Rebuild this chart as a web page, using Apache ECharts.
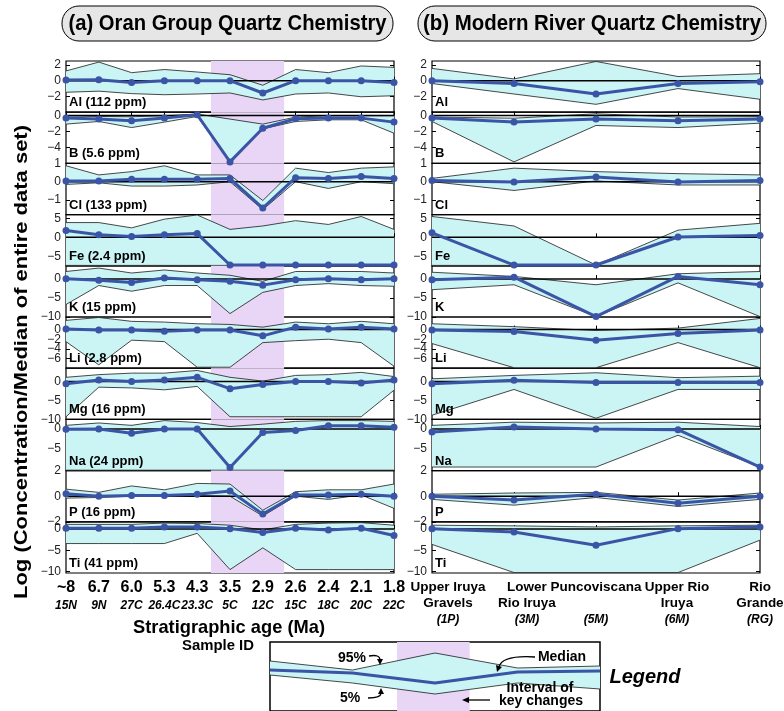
<!DOCTYPE html>
<html><head><meta charset="utf-8">
<script src="https://cdn.jsdelivr.net/npm/echarts@6/dist/echarts.min.js"></script>
<style>html,body{margin:0;padding:0;background:#fff}#c{width:784px;height:711px}</style>
</head><body><div id="c"></div>
<script>
// ---------- categories / labels ----------
const ageLabels = ['~8','6.7','6.0','5.3','4.3','3.5','2.9','2.6','2.4','2.1','1.8'];
const sampleIds = ['15N','9N','27C','26.4C','23.3C','5C','12C','15C','18C','20C','22C'];
const riverNames = ['Upper Iruya\nGravels','Lower\nRio Iruya','Puncoviscana\n ','Upper Rio\nIruya','Rio\nGrande'];
const riverIds = ['(1P)','(3M)','(5M)','(6M)','(RG)'];
const elements = ['Al','B','Cl','Fe','K','Li','Mg','Na','P','Ti'];
const medianPpm = ['112','5.6','133','2.4','15','2.8','16','24','16','41'];
const yMin = [-4,-6,-1.8,-7.5,-10,-8,-10,-10.5,-2,-10.3];
const yMax = [2.5,0.4,1,6,3.5,2.6,3.5,2.4,2,1.7];
const yTicks = [[2,0,-2],[0,-2,-4],[1,0,-1],[5,0,-5],[0,-5,-10],[0,-2,-4,-6],[0,-5,-10],[0,-5],[2,0,-2],[0,-5,-10]];
const keyInterval = [4.42, 6.65];

// ---------- (a) Oran Group: 95th percentile, median, 5th percentile ----------
const al95a = [1.24,2.36,1.02,1.42,1.1,0.76,-0.58,1.42,1.02,1.87,1.69];
const alMeda = [0.09,0.13,-0.22,0,0,0,-1.56,0,0,0,-0.22];
const al5a = [-1.47,-1.33,-1.64,-1.78,-1.69,-1.56,-2.44,-1.69,-1.56,-2.04,-1.91];
const b95a = [-0.04,-0.13,-0.17,-0.04,0.17,-0.46,-1.09,-0.21,-0.04,-0.04,-0.04];
const bMeda = [-0.34,-0.46,-0.67,-0.34,0.08,-5.81,-1.6,-0.42,-0.34,-0.34,-0.84];
const b5a = [-1.09,-0.76,-1.52,-0.84,-0.13,-5.81,-1.68,-0.76,-0.55,-0.55,-2.23];
const cl95a = [0.87,0.37,0.55,0.87,0.37,0.37,-1.03,0.74,0.5,0.74,0.81];
const clMeda = [0.04,0.04,0.13,0.13,0.13,0.17,-1.44,0.22,0.18,0.28,0.18];
const cl5a = [-0.15,-0.06,-0.24,-0.24,-0.18,0,-1.53,0,-0.37,0,-0.11];
const fe95a = [3.9,3.9,2.5,4.8,5.9,2.1,3.0,4.4,3.4,5.5,2.1];
const feMeda = [1.8,0.7,0.25,0.7,1.0,-7.3,-7.3,-7.3,-7.3,-7.3,-7.3];
const fe5a = [-7.4,-7.4,-7.4,-7.4,-7.4,-7.4,-7.4,-7.4,-7.4,-7.4,-7.4];
const k95a = [2.0,2.9,1.6,2.4,1.6,1.0,-0.6,2.0,2.0,2.0,1.6];
const kMeda = [0.1,-0.3,-0.9,0.3,-0.2,-0.6,-1.6,-0.2,0.1,-0.2,0.1];
const k5a = [-6.7,-1.7,-3.2,-1.7,-1.7,-9.1,-3.5,-1.7,-1.2,-1.7,-1.9];
const li95a = [1.9,2.5,1.7,1.55,1.2,1.06,0.5,1.55,1.2,1.7,1.2];
const liMeda = [0.1,-0.1,-0.1,-0.35,-0.1,-0.1,-1.3,0.5,0.1,0.5,0.1];
const li5a = [-2.5,-7.3,-2.2,-2.5,-7.8,-7.8,-2.7,-2.3,-2.0,-2.7,-7.6];
const mg95a = [1.1,1.8,2.2,2.2,2.9,1.1,0.1,1.6,1.8,2.4,1.3];
const mgMeda = [-0.6,0.4,0,0.4,1.1,-1.9,-0.8,0,0,-0.4,0.4];
const mg5a = [-9.3,-1.5,-1.7,-2.2,-1.3,-9.3,-9.3,-9.3,-9.3,-9.3,-2.3];
const na95a = [0.9,1.5,0.9,2.1,1.6,0.6,1.2,1.9,2.1,2.1,1.9];
const naMeda = [-0.1,0,-1.1,0,0,-9.7,-0.9,-0.4,0.8,0.8,0.4];
const na5a = [-10.4,-10.4,-10.4,-10.4,-10.4,-10.4,-10.4,-10.4,-10.4,-10.4,-10.4];
const p95a = [0.55,0.3,0.8,0.5,1.0,0.95,-1.1,0.35,0.5,0.5,0.95];
const pMeda = [0.2,0,0.05,0.05,0.15,0.4,-1.4,0.1,0.1,0.15,0];
const p5a = [-0.15,-0.1,0,0,0.05,0,-1.55,0,-0.25,0.1,-0.95];
const ti95a = [1.1,1.1,1.1,1.4,1.3,0.9,-0.2,1.1,1.4,1.5,0.9];
const tiMeda = [0.2,0.2,0.2,0.5,0.5,0.1,-0.8,0.2,-0.2,0.2,-1.5];
const ti5a = [-3.4,-3.4,-3.4,-3.4,-1.0,-9.5,-4.4,-9.5,-9.5,-9.5,-9.5];

// ---------- (b) Modern River ----------
const al95b = [1.56,0.22,2.44,0.53,0.89];
const alMedb = [0,-0.36,-1.69,-0.36,-0.13];
const al5b = [-0.36,-1.69,-3.0,-1.0,-2.36];
const b95b = [-0.2,-0.35,0.2,-0.2,-0.15];
const bMedb = [-0.34,-0.84,-0.46,-0.67,-0.46];
const b5b = [-0.76,-5.81,-1.26,-1.52,-0.97];
const cl95b = [0.18,0.74,0.55,0.44,0.37];
const clMedb = [0.07,-0.02,0.26,-0.02,0.07];
const cl5b = [0,-0.48,0.04,-0.18,-0.18];
const fe95b = [5.5,3.0,-7.3,1.9,3.7];
const feMedb = [1.2,-7.3,-7.3,0.1,0.5];
const fe5b = [-7.4,-7.4,-7.4,-7.4,-7.4];
const k95b = [1.8,0.7,-1.5,1.4,2.0];
const kMedb = [-0.2,0.5,-9.9,0.7,-1.5];
const k5b = [-2.8,-1.5,-9.9,-1.0,-9.9];
const li95b = [1.2,0.6,-0.2,0.3,2.3];
const liMedb = [-0.1,-0.4,-2.2,-0.8,-0.1];
const li5b = [-2.9,-7.9,-7.9,-2.7,-7.9];
const mg95b = [0.7,1.6,2.3,1.0,1.4];
const mgMedb = [-0.6,0.3,-0.3,-0.3,-0.3];
const mg5b = [-8.9,-2.1,-9.7,-2.1,-2.1];
const na95b = [0.9,1.7,1.5,1.7,0.6];
const naMedb = [-0.8,0.5,0,-0.2,-9.6];
const na5b = [-9.6,-9.6,-9.6,-1.6,-9.6];
const p95b = [0.15,0.25,0.3,-0.3,0.25];
const pMedb = [0,-0.3,0.15,-0.55,0];
const p5b = [-0.25,-0.7,-0.1,-0.8,-0.25];
const ti95b = [0.9,0.75,0.5,0.75,0.9];
const tiMedb = [0.1,-0.7,-3.8,0.1,0.5];
const ti5b = [-3.6,-10.2,-10.2,-10.2,-2.6];

// ---------- legend illustration ----------
const legend95 = [50,41,58,43,45];
const legendMed = [41,38,28,39,40];
const legend5 = [36,28,17,28,22];
const legendInterval = [1.54, 2.42];

const panelA = [[al95a,alMeda,al5a],[b95a,bMeda,b5a],[cl95a,clMeda,cl5a],[fe95a,feMeda,fe5a],[k95a,kMeda,k5a],
  [li95a,liMeda,li5a],[mg95a,mgMeda,mg5a],[na95a,naMeda,na5a],[p95a,pMeda,p5a],[ti95a,tiMeda,ti5a]];
const panelB = [[al95b,alMedb,al5b],[b95b,bMedb,b5b],[cl95b,clMedb,cl5b],[fe95b,feMedb,fe5b],[k95b,kMedb,k5b],
  [li95b,liMedb,li5b],[mg95b,mgMedb,mg5b],[na95b,naMedb,na5b],[p95b,pMedb,p5b],[ti95b,tiMedb,ti5b]];

// ---------- layout / style ----------
const TOP = 61, ROW_H = 51.2, LX = 66, RX = 432, W = 328;
const BLUE = '#3b55a6', CYAN = '#cbf4f4', PINK = '#e9d5f6';
const FONT = '"Liberation Sans", Arial, Helvetica, sans-serif';
const minus = v => (v < 0 ? '\u2212' + Math.abs(v) : String(v));
const riverLabelNudge = [16, 13, 0, -1, 0];
const CROWDED_ROW = 5; // Li: labels too close for the axis' own overlap rule

const measureCtx = document.createElement('canvas').getContext('2d');
function widthOf(text, font) { measureCtx.font = font; return measureCtx.measureText(text).width; }

const grids = [], xAxes = [], yAxes = [], yAxesRight = [], series = [], graphics = [];

function bandRender(up, lo) {
  return function (params, api) {
    const top = up.map((v, i) => api.coord([i, v]));
    const bot = lo.map((v, i) => api.coord([i, v]));
    return { type: 'group', children: [
      { type: 'polygon', shape: { points: top.concat(bot.slice().reverse()) }, style: { fill: CYAN, stroke: null } },
      { type: 'polyline', shape: { points: top }, style: { stroke: '#1a1a1a', lineWidth: 0.8, fill: null } },
      { type: 'polyline', shape: { points: bot }, style: { stroke: '#1a1a1a', lineWidth: 0.8, fill: null } }
    ]};
  };
}

const richX = {
  a: { fontFamily: FONT, fontWeight: 'bold', fontSize: 16, lineHeight: 18, color: '#000' },
  b: { fontFamily: FONT, fontWeight: 'bold', fontStyle: 'italic', fontSize: 12, lineHeight: 17, color: '#000' },
  c: { fontFamily: FONT, fontWeight: 'bold', fontSize: 13.5, lineHeight: 16, color: '#000' },
  d: { fontFamily: FONT, fontWeight: 'bold', fontStyle: 'italic', fontSize: 12, lineHeight: 17, color: '#000' }
};

function addRow(gi, left, row, nX, bands, pink, bottom, labelFmt) {
  const top = TOP + row * ROW_H;
  grids.push({ left: left, top: top, width: W, height: ROW_H, show: true, borderColor: '#000', borderWidth: 1.2, containLabel: false });
  xAxes.push({
    gridIndex: gi, type: 'value', min: 0, max: nX - 1, interval: 1,
    axisLine: { show: false }, splitLine: { show: false },
    axisTick: { show: true, inside: true, length: 4, lineStyle: { color: '#000', width: 1 } },
    axisLabel: (bottom && labelFmt) ? { show: true, margin: 6, showMinLabel: true, showMaxLabel: true, hideOverlap: false, formatter: labelFmt, rich: richX } : { show: false }
  });
  yAxes.push({
    gridIndex: gi, type: 'value', min: yMin[row], max: yMax[row],
    axisLine: { show: false }, splitLine: { show: false },
    axisTick: { show: true, inside: true, length: 4, customValues: yTicks[row], lineStyle: { color: '#000' } },
    axisLabel: { show: row !== CROWDED_ROW, customValues: yTicks[row], formatter: minus, hideOverlap: false,
      fontFamily: FONT, fontSize: 12, color: '#222', margin: 5 }
  });
  yAxesRight.push({
    gridIndex: gi, type: 'value', position: 'right', min: yMin[row], max: yMax[row],
    axisLine: { show: false }, splitLine: { show: false }, axisLabel: { show: false },
    axisTick: { show: true, inside: true, length: 4, customValues: yTicks[row], lineStyle: { color: '#000' } }
  });
  const [up, med, lo] = bands;
  series.push({ type: 'line', xAxisIndex: gi, yAxisIndex: gi, data: [[0, 0]], showSymbol: false, silent: true,
    lineStyle: { width: 0, opacity: 0 }, z: 1,
    markArea: pink ? { silent: true, itemStyle: { color: PINK }, data: [[{ xAxis: keyInterval[0] }, { xAxis: keyInterval[1] }]] } : undefined });
  series.push({ type: 'custom', xAxisIndex: gi, yAxisIndex: gi, data: [[0, 0]], renderItem: bandRender(up, lo), z: 2, silent: true, clip: true });
  series.push({ type: 'line', xAxisIndex: gi, yAxisIndex: gi, data: [[0, 0], [nX - 1, 0]], showSymbol: false, silent: true,
    lineStyle: { color: '#000', width: 1.5 }, z: 3 });
  series.push({ type: 'line', xAxisIndex: gi, yAxisIndex: gi, data: med.map((v, i) => [i, v]), symbol: 'circle', symbolSize: 7,
    lineStyle: { color: BLUE, width: 3 }, itemStyle: { color: BLUE }, z: 4, silent: true, clip: false });
}

const fmtA = v => { const i = Math.round(v); return '{a|' + ageLabels[i] + '}\n{b|' + sampleIds[i] + '}'; };
const riverText = i => riverNames[i].split('\n').map(s => '{c|' + s + '}').join('\n') + '\n{d|' + riverIds[i] + '}';

let gi = 0;
for (let r = 0; r < 10; r++) { addRow(gi++, LX, r, 11, panelA[r], true, r === 9, fmtA); }
for (let r = 0; r < 10; r++) { addRow(gi++, RX, r, 5, panelB[r], false, r === 9, null); }
const RIGHT_BOTTOM = gi - 1;

// row labels
for (let r = 0; r < 10; r++) {
  const yb = TOP + (r + 1) * ROW_H - 8;
  graphics.push({ type: 'text', left: LX + 3, top: yb - 8, z: 10, style: { text: elements[r] + ' (' + medianPpm[r] + ' ppm)', font: 'bold 13px ' + FONT, fill: '#000' } });
  graphics.push({ type: 'text', left: RX + 3, top: yb - 8, z: 10, style: { text: elements[r], font: 'bold 13px ' + FONT, fill: '#000' } });
}

// legend grid
const LG = gi;
grids.push({ left: 270, top: 642, width: 330, height: 69, show: true, borderColor: '#000', borderWidth: 1.5 });
xAxes.push({ gridIndex: LG, type: 'value', min: 0, max: 4, show: false });
yAxes.push({ gridIndex: LG, type: 'value', min: 0, max: 69, show: false });
series.push({ type: 'line', xAxisIndex: LG, yAxisIndex: LG, data: [[0, 0]], showSymbol: false, silent: true, lineStyle: { width: 0, opacity: 0 }, z: 1,
  markArea: { silent: true, itemStyle: { color: PINK }, data: [[{ xAxis: legendInterval[0] }, { xAxis: legendInterval[1] }]] } });
series.push({ type: 'custom', xAxisIndex: LG, yAxisIndex: LG, data: [[0, 0]], renderItem: bandRender(legend95, legend5), z: 2, silent: true });
series.push({ type: 'line', xAxisIndex: LG, yAxisIndex: LG, data: legendMed.map((v, i) => [i, v]), showSymbol: false, silent: true,
  lineStyle: { color: BLUE, width: 3 }, z: 4 });

// stretched/condensed text helper
function fitText(text, font, cx, cy, targetW, rotation) {
  const w = widthOf(text, font);
  graphics.push({ type: 'text', x: cx, y: cy, rotation: rotation || 0, scaleX: targetW / w, z: 11,
    style: { x: 0, y: 0, text: text, font: font, fill: '#000', align: 'center', verticalAlign: 'middle' } });
}

// headers
function header(x, w, text, tw) {
  graphics.push({ type: 'rect', shape: { x: x, y: 6, width: w, height: 35, r: 17 }, style: { fill: '#e6e6e6', stroke: '#000', lineWidth: 1 }, z: 10 });
  fitText(text, 'bold 22px ' + FONT, x + w / 2, 23.5, tw);
}
header(62, 331, '(a) Oran Group Quartz Chemistry', 318);
header(418, 348, '(b) Modern River Quartz Chemistry', 338);

// axis titles
fitText('Log (Concentration/Median of entire data set)', 'bold 19px ' + FONT, 22, 362, 474, Math.PI / 2);
fitText('Stratigraphic age (Ma)', 'bold 19px ' + FONT, 229, 628, 192);
fitText('Sample ID', 'bold 14px ' + FONT, 218, 646, 72);

// legend annotations
function t(x, y, s, font) { graphics.push({ type: 'text', x: x, y: y, z: 12, style: { text: s, font: font || ('bold 14px ' + FONT), fill: '#000', align: 'center', verticalAlign: 'middle' } }); }
t(352, 658, '95%'); t(350, 698, '5%'); t(562, 657, 'Median'); t(540, 688, 'Interval of'); t(541, 701, 'key changes');
t(645, 677, 'Legend', 'bold italic 20px ' + FONT);
function curve(x1, y1, cx, cy, x2, y2) {
  graphics.push({ type: 'bezierCurve', z: 12, shape: { x1: x1, y1: y1, cpx1: cx, cpy1: cy, x2: x2, y2: y2 }, style: { stroke: '#000', lineWidth: 1.3, fill: null } });
}
function head(pts) { graphics.push({ type: 'polygon', z: 12, shape: { points: pts }, style: { fill: '#000' } }); }
curve(369, 656, 380, 654, 380, 660); head([[380, 665], [377, 659], [383, 659]]);
curve(368, 698, 381, 698, 381, 693); head([[381, 688], [378, 694], [384, 694]]);
curve(535, 657, 502, 655, 499, 667); head([[497, 672], [496, 665], [502, 667]]);
graphics.push({ type: 'line', z: 12, shape: { x1: 490, y1: 700, x2: 468, y2: 700 }, style: { stroke: '#000', lineWidth: 1.3 } });
head([[462, 700], [469, 697], [469, 703]]);

// right-side tick axes appended after the main y axes (no series bound to them)
const allY = yAxes.concat(yAxesRight);

const chart = echarts.init(document.getElementById('c'), null, { renderer: 'canvas' });
chart.setOption({
  animation: false,
  backgroundColor: '#fff',
  grid: grids, xAxis: xAxes, yAxis: allY, series: series, graphic: graphics
});

// river sample labels, positioned through the bottom-right axis scale
const extra = riverNames.map((n, i) => {
  const p = chart.convertToPixel({ xAxisIndex: RIGHT_BOTTOM, yAxisIndex: RIGHT_BOTTOM }, [i, yMin[9]]);
  return { type: 'text', x: p[0] + riverLabelNudge[i], y: p[1] + 6, z: 10,
    style: { text: riverText(i), rich: richX, align: 'center', verticalAlign: 'top' } };
});
// crowded Li tick labels, positioned through that row's own y scale
[CROWDED_ROW, CROWDED_ROW + 10].forEach(g => {
  yTicks[CROWDED_ROW].forEach(v => {
    const p = chart.convertToPixel({ xAxisIndex: g, yAxisIndex: g }, [0, v]);
    extra.push({ type: 'text', x: p[0] - 5, y: p[1], z: 10,
      style: { text: minus(v), font: '12px ' + FONT, fill: '#222', align: 'right', verticalAlign: 'middle' } });
  });
});
chart.setOption({ graphic: graphics.concat(extra) });
</script></body></html>
